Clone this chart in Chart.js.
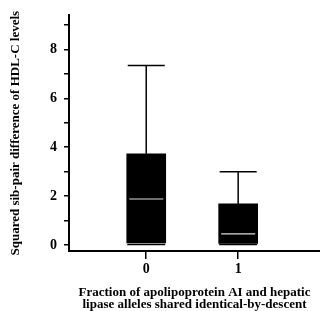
<!DOCTYPE html>
<html>
<head>
<meta charset="utf-8">
<script src="https://cdn.jsdelivr.net/npm/chart.js@4"></script>
<style>
  html, body { margin: 0; padding: 0; background: #fff; }
  #wrap { width: 320px; height: 311px; }
</style>
</head>
<body>
<div id="wrap"><canvas id="chart" width="320" height="311"></canvas></div>
<script>
// box plot summary per group
const categories = [0, 1];
const whiskerLow = [0.02, 0.02];
const q1 = [0.08, 0.06];
const medians = [1.88, 0.45];
const q3 = [3.73, 1.68];
const whiskerHigh = [7.35, 3.0];
const yTicks = [0, 1, 2, 3, 4, 5, 6, 7, 8, 9];
const yLabels = [0, 2, 4, 6, 8];

const serif = 'Liberation Serif';

// vertical whiskers: one line dataset for each group
const whiskers = categories.map((c, i) => ({
    type: 'scatter',
    data: [{ x: c, y: q3[i] }, { x: c, y: whiskerHigh[i] }],
    showLine: true,
    borderColor: '#000',
    borderWidth: 1.5,
    pointRadius: 0,
    order: 4
}));

const ctx = document.getElementById('chart').getContext('2d');
new Chart(ctx, {
    type: 'bar',
    data: {
        datasets: [
            {
                label: 'box',
                data: categories.map((c, i) => ({ x: c, y: [q1[i], q3[i]] })),
                backgroundColor: '#000',
                borderWidth: 0,
                barThickness: 39,
                order: 3
            },
            ...whiskers,
            {
                type: 'scatter',
                label: 'upper cap',
                data: categories.map((c, i) => ({ x: c, y: whiskerHigh[i] })),
                pointStyle: 'line',
                pointRadius: 18.5,
                borderColor: '#000',
                borderWidth: 1.5,
                order: 2
            },
            {
                type: 'scatter',
                label: 'lower cap',
                data: categories.map((c, i) => ({ x: c, y: whiskerLow[i] })),
                pointStyle: 'line',
                pointRadius: 19,
                borderColor: '#000',
                borderWidth: 1.5,
                order: 2
            },
            {
                type: 'scatter',
                label: 'median',
                data: categories.map((c, i) => ({ x: c, y: medians[i] })),
                pointStyle: 'line',
                pointRadius: 17,
                borderColor: '#ddd',
                borderWidth: 1.2,
                order: 0
            }
        ]
    },
    options: {
        responsive: false,
        animation: false,
        layout: { autoPadding: false, padding: { top: 15, right: 0, left: 0, bottom: 0 } },
        plugins: { legend: { display: false }, tooltip: { enabled: false } },
        scales: {
            x: {
                type: 'linear',
                min: -0.84,
                max: 1.89,
                offset: false,
                afterBuildTicks: (scale) => { scale.ticks = categories.map(v => ({ value: v })); },
                afterFit: (scale) => { scale.height = 60; },
                border: { color: '#000', width: 2 },
                grid: { offset: false, drawOnChartArea: false, color: '#000', tickLength: 8, lineWidth: 1.5 },
                ticks: {
                    color: '#000',
                    padding: 2,
                    font: { family: serif, size: 14, weight: 'bold' }
                },
                title: {
                    display: true,
                    text: ['Fraction of apolipoprotein AI and hepatic', 'lipase alleles shared identical-by-descent'],
                    color: '#000',
                    font: { family: serif, size: 13, weight: 'bold', lineHeight: 0.95 },
                    padding: { top: 10, bottom: 0 }
                }
            },
            y: {
                min: -0.25,
                max: 9.4,
                afterBuildTicks: (scale) => { scale.ticks = yTicks.map(v => ({ value: v })); },
                afterFit: (scale) => { scale.width = 69; },
                border: { color: '#000', width: 2 },
                grid: { drawOnChartArea: false, color: '#000', tickLength: 5, lineWidth: 1.5 },
                ticks: {
                    color: '#000',
                    padding: 7,
                    font: { family: serif, size: 14, weight: 'bold' },
                    callback: (v) => yLabels.includes(v) ? String(v) : ''
                },
                title: {
                    display: true,
                    text: 'Squared sib-pair difference of HDL-C levels',
                    color: '#000',
                    font: { family: serif, size: 13, weight: 'bold' },
                    padding: { top: 8, bottom: 0 }
                }
            }
        }
    }
});
</script>
</body>
</html>
